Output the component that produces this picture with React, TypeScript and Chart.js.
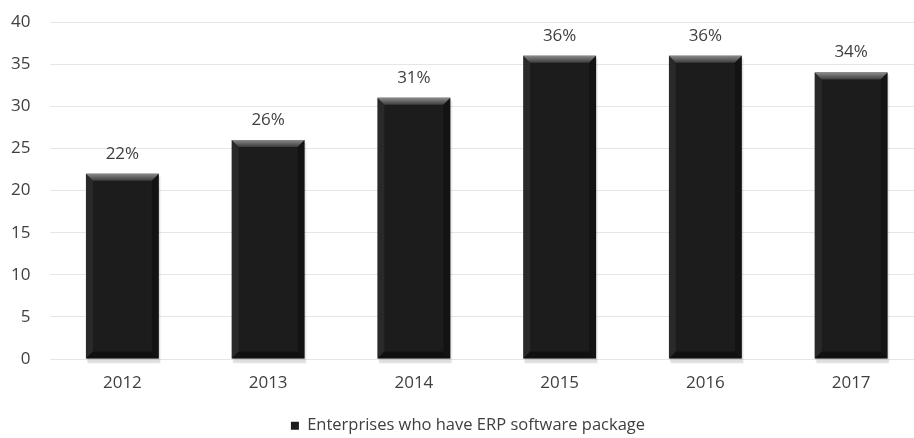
import React, { useEffect, useRef } from "react";
import { Chart, registerables } from "chart.js";

Chart.register(...registerables);

const categories = ["2012", "2013", "2014", "2015", "2016", "2017"];
const erpValues = [22, 26, 31, 36, 36, 34];
const seriesLabel = "Enterprises who have ERP software package";
const yTicksMin = 0;
const yTicksMax = 40;
const yTicksStep = 5;

const FONT = "'Open Sans', 'Noto Sans', sans-serif";
const TEXT = "#404040";

const barDecor = {
  id: "barDecor",
  beforeDatasetsDraw(chart: any) {
    const ctx = chart.ctx;
    const meta = chart.getDatasetMeta(0);
    ctx.save();
    meta.data.forEach((bar: any) => {
      const { x, y, base, width } = bar.getProps(["x", "y", "base", "width"], true);
      const l = x - width / 2;
      ctx.fillStyle = "rgba(0,0,0,0.08)";
      ctx.fillRect(l + 1, y + 2, width, base - y + 2);
      ctx.fillStyle = "rgba(0,0,0,0.06)";
      ctx.fillRect(l + 2, y + 3, width, base - y + 2);
    });
    ctx.restore();
  },
  afterDatasetsDraw(chart: any) {
    const ctx = chart.ctx;
    const meta = chart.getDatasetMeta(0);
    ctx.save();
    meta.data.forEach((bar: any, i: number) => {
      const { x, y, base, width } = bar.getProps(["x", "y", "base", "width"], true);
      const l = x - width / 2;
      const r = x + width / 2;
      const b = 7;
      const g = ctx.createLinearGradient(0, y, 0, y + b);
      g.addColorStop(0, "#8a8a8a");
      g.addColorStop(1, "#3c3c3c");
      ctx.fillStyle = g;
      ctx.beginPath();
      ctx.moveTo(l, y);
      ctx.lineTo(r, y);
      ctx.lineTo(r - b, y + b);
      ctx.lineTo(l + b, y + b);
      ctx.closePath();
      ctx.fill();
      ctx.fillStyle = "rgba(80,80,80,0.25)";
      ctx.beginPath();
      ctx.moveTo(l, y);
      ctx.lineTo(l + b, y + b);
      ctx.lineTo(l + b, base - b);
      ctx.lineTo(l, base);
      ctx.closePath();
      ctx.fill();
      ctx.fillStyle = "rgba(0,0,0,0.3)";
      ctx.beginPath();
      ctx.moveTo(r, y);
      ctx.lineTo(r - b, y + b);
      ctx.lineTo(r - b, base - b);
      ctx.lineTo(r, base);
      ctx.closePath();
      ctx.fill();
      ctx.fillStyle = "rgba(0,0,0,0.4)";
      ctx.beginPath();
      ctx.moveTo(l, base);
      ctx.lineTo(l + b, base - b);
      ctx.lineTo(r - b, base - b);
      ctx.lineTo(r, base);
      ctx.closePath();
      ctx.fill();
      ctx.fillStyle = TEXT;
      ctx.font = `17px ${FONT}`;
      ctx.textAlign = "center";
      ctx.textBaseline = "middle";
      ctx.fillText(`${erpValues[i]}%`, x, y - 20);
    });
    ctx.restore();
  },
};

const legendShift = {
  id: "legendShift",
  afterLayout(chart: any) {
    const lg = chart.legend;
    if (lg) {
      lg.left += 6;
      lg.right += 6;
    }
  },
};

export default function App() {
  const ref = useRef<HTMLCanvasElement>(null);
  useEffect(() => {
    if (!ref.current) return;
    const chart = new Chart(ref.current, {
      type: "bar",
      data: {
        labels: categories,
        datasets: [
          {
            label: seriesLabel,
            data: erpValues,
            backgroundColor: "#1c1c1c",
            borderWidth: 0,
            barPercentage: 0.5,
            categoryPercentage: 1,
          },
        ],
      },
      options: {
        responsive: false,
        animation: false,
        layout: { padding: { top: 22, left: 0, right: 0, bottom: 0 } },
        plugins: {
          tooltip: { enabled: false },
          legend: {
            position: "bottom",
            labels: {
              boxWidth: 8,
              boxHeight: 8,
              padding: 10,
              color: TEXT,
              font: { family: FONT, size: 16.5 },
            },
          },
        },
        scales: {
          x: {
            grid: { display: false, drawTicks: false },
            border: { display: false },
            ticks: { color: TEXT, font: { family: FONT, size: 17 }, padding: 14 },
          },
          y: {
            min: yTicksMin,
            max: yTicksMax,
            grid: { color: "#e6e6e6", drawTicks: false, lineWidth: 1 },
            border: { display: false },
            ticks: {
              stepSize: yTicksStep,
              color: TEXT,
              font: { family: FONT, size: 17 },
              padding: 19,
            },
            afterFit(scale: any) {
              scale.width = 49.5;
              scale.paddingTop = 0;
              scale.paddingBottom = 0;
            },
          },
        },
      },
      plugins: [barDecor, legendShift],
    });
    return () => chart.destroy();
  }, []);
  return (
    <div style={{ position: "fixed", left: 0, top: 0, width: 914, height: 438, overflow: "hidden", background: "#fff" }}>
      <canvas ref={ref} width={924} height={444} style={{ width: 924, height: 444, display: "block" }} />
    </div>
  );
}
